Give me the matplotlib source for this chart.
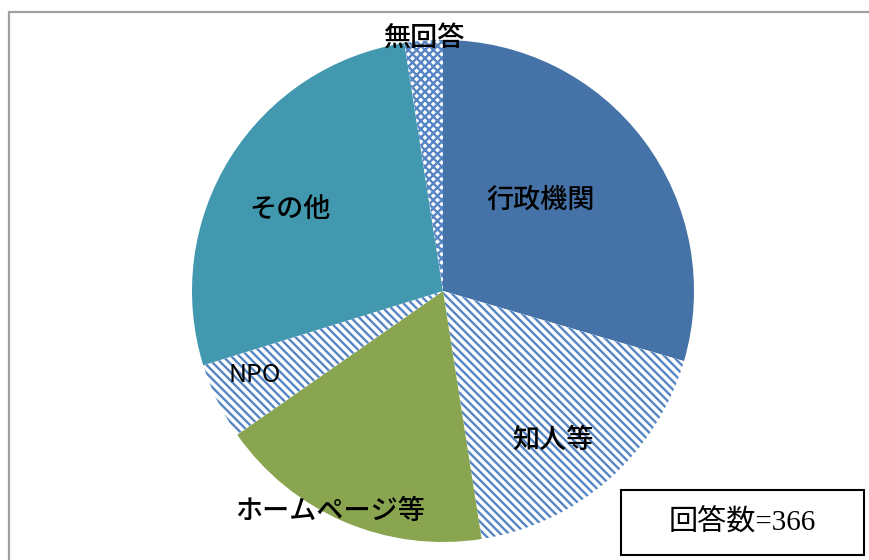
import numpy as np
import matplotlib
matplotlib.use("Agg")
import matplotlib.pyplot as plt
from matplotlib.patches import Rectangle
from matplotlib import font_manager

categories = ["行政機関", "知人等", "ホームページ等", "NPO", "その他", "無回答"]
counts = [108, 66, 65, 18, 100, 9]
total_label = "回答数=366"

colors = ["#4673A7", "white", "#8AA54F", "white", "#4198AF", "white"]
hatches = [None, "\\\\\\\\", None, "\\\\\\\\", None, "xxxx"]
label_dist = [0.53, 0.74, 0.985, 0.82, 0.69, 1.01]
label_shift = [-6, 5, 4, 2, -4, 0]   # degrees clockwise from wedge middle

plt.rcParams['font.family'] = ['Noto Sans CJK JP', 'DejaVu Sans']
plt.rcParams['hatch.linewidth'] = 1.7

names = {f.name for f in font_manager.fontManager.ttflist}
narrow = [n for n in ['Liberation Sans Narrow', 'DejaVu Sans Condensed'] if n in names]

W, H = 869, 560
fig = plt.figure(figsize=(W / 100, H / 100), dpi=100)

cx, cy, r = 443, 291, 251
ax = fig.add_axes([(cx - r) / W, (H - cy - r) / H, 2 * r / W, 2 * r / H])
wedges, _ = ax.pie(counts, startangle=90, counterclock=False, radius=1,
                   colors=colors, wedgeprops=dict(linewidth=0))
for w, h in zip(wedges, hatches):
    if h:
        w.set_hatch(h)
        w.set_edgecolor("#5585C2")
        w.set_linewidth(0)
ax.set_xlim(-1, 1)
ax.set_ylim(-1, 1)
ax.set_aspect("equal")
ax.axis("off")

for w, name, d, s in zip(wedges, categories, label_dist, label_shift):
    mid = np.deg2rad((w.theta1 + w.theta2) / 2 - s)
    x, y = d * np.cos(mid), d * np.sin(mid)
    if name == "NPO":
        ax.text(x, y, name, ha="center", va="center", fontsize=18,
                family=narrow + ['Noto Sans CJK JP'], color="black")
    else:
        ax.text(x, y, name, ha="center", va="center", fontsize=19.5,
                weight="medium", color="black")

# outer chart frame
fig.patches.append(Rectangle((9 / W, -0.5), 2, 1.5 - 12 / H,
                             transform=fig.transFigure, fill=False,
                             edgecolor="#A0A0A0", linewidth=1.6))

# count box
bx0, by0, bx1, by1 = 621, 490, 864, 555
fig.patches.append(Rectangle((bx0 / W, 1 - by1 / H), (bx1 - bx0) / W, (by1 - by0) / H,
                             transform=fig.transFigure, fill=True, facecolor="white",
                             edgecolor="black", linewidth=1.5))
fig.text((bx0 + bx1) / 2 / W, 1 - (by0 + by1) / 2 / H, total_label,
         ha="center", va="center", fontsize=21,
         family=['Liberation Serif', 'Noto Sans CJK JP'])

fig.savefig("out.png", dpi=100, facecolor="white")
